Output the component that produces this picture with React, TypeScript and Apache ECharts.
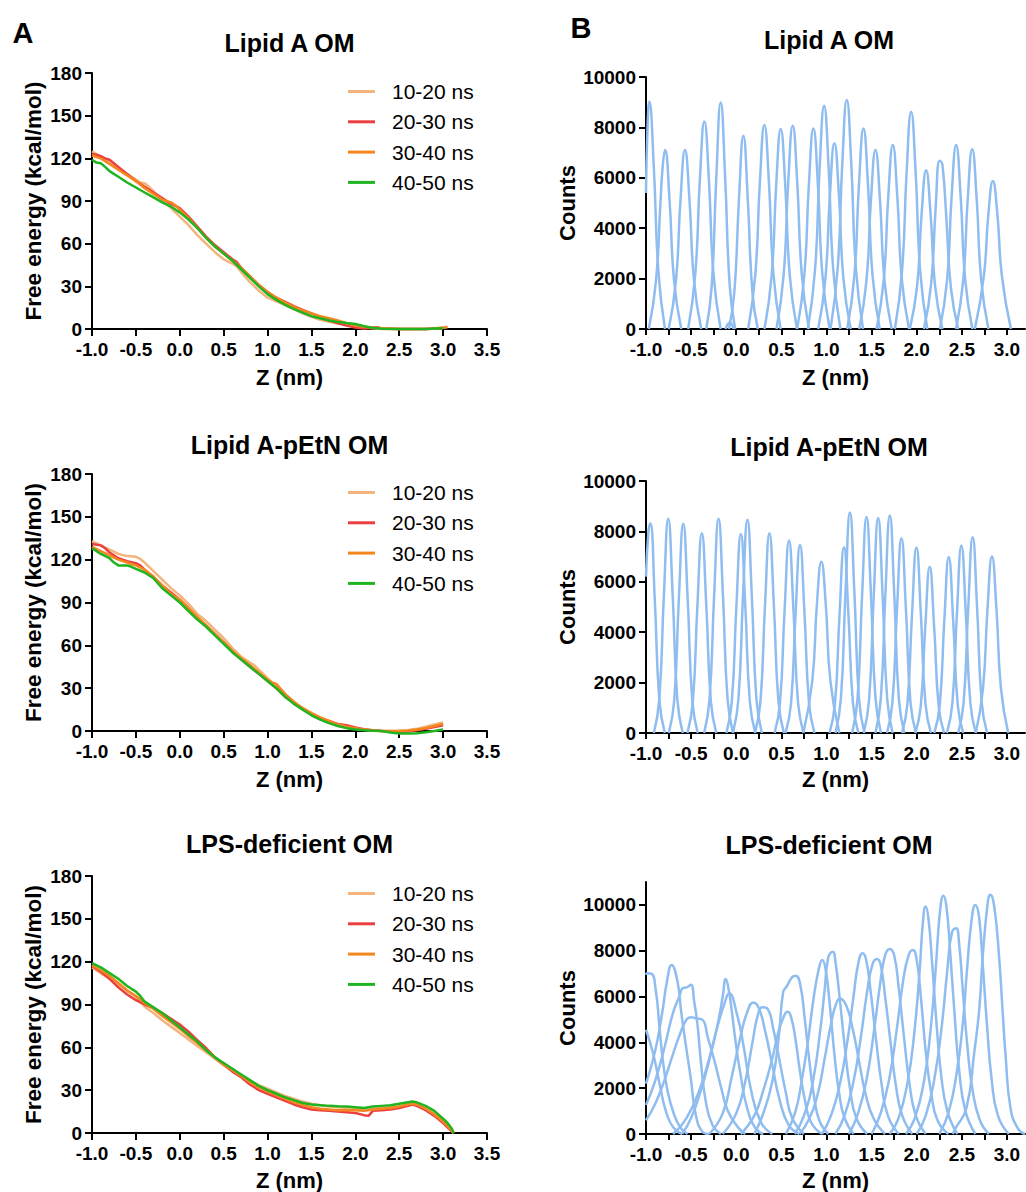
import React, { useEffect, useRef } from "react";
import * as echarts from "echarts";

// ---------- labels ----------
const LEGEND_NAMES = ["10-20 ns", "20-30 ns", "30-40 ns", "40-50 ns"];
const PANEL_TITLES = ["Lipid A OM", "Lipid A-pEtN OM", "LPS-deficient OM"];
const A_X_TICKS = [-1, -0.5, 0, 0.5, 1, 1.5, 2, 2.5, 3, 3.5];
const A_Y_TICKS = [0, 30, 60, 90, 120, 150, 180];
const B_X_LABELS = [-1, -0.5, 0, 0.5, 1, 1.5, 2, 2.5, 3];
const B_X_TICKS = [-1, -0.75, -0.5, -0.25, 0, 0.25, 0.5, 0.75, 1, 1.25, 1.5, 1.75, 2, 2.25, 2.5, 2.75, 3];
const B_Y_TICKS = [0, 2000, 4000, 6000, 8000, 10000];

// ---------- A: free energy profiles [z, kcal/mol] ----------
const lipidA_1020 = [[-1.0,125],[-0.95,123],[-0.9,121],[-0.8,117],[-0.7,113],[-0.6,109],[-0.5,105],[-0.45,103],[-0.4,102.5],[-0.35,100],[-0.3,97],[-0.2,91],[-0.1,85],[0,79],[0.1,73],[0.2,66],[0.3,60],[0.4,54],[0.5,49],[0.6,46],[0.65,44],[0.7,40],[0.8,33],[0.9,27],[1.0,22],[1.1,19.5],[1.2,17],[1.3,14],[1.4,11],[1.5,8.5],[1.6,6.5],[1.7,5],[1.8,4],[1.9,3],[2.0,2],[2.1,1.2],[2.2,0.6],[2.3,0],[2.5,0],[2.7,0],[2.9,0.2],[3.0,1.2],[3.05,1.5]];
const lipidA_2030 = [[-1.0,123],[-0.95,122.5],[-0.9,121.5],[-0.85,120],[-0.8,119],[-0.7,114],[-0.6,109],[-0.5,104],[-0.4,100],[-0.3,96],[-0.2,92],[-0.1,88],[0,85],[0.05,82],[0.1,79],[0.2,72],[0.3,65],[0.4,59],[0.5,54],[0.6,49],[0.65,47],[0.7,43],[0.8,37],[0.9,31],[1.0,26],[1.1,22],[1.2,19],[1.3,16],[1.4,13.5],[1.5,11],[1.6,8.5],[1.7,6],[1.8,4],[1.9,2.5],[2.0,1],[2.1,0.3],[2.2,0.8],[2.25,1.2],[2.3,0.3],[2.5,0],[2.8,0],[3.0,0.6]];
const lipidA_3040 = [[-1.0,122],[-0.9,120],[-0.8,116],[-0.7,112],[-0.6,108],[-0.5,104],[-0.4,99],[-0.3,95],[-0.2,91],[-0.1,89],[-0.05,87],[0,84],[0.1,78],[0.2,71],[0.3,64],[0.4,58],[0.5,53],[0.6,48],[0.7,43],[0.8,37],[0.9,31],[1.0,26],[1.1,22],[1.2,18.5],[1.3,15.5],[1.4,13],[1.5,11],[1.6,9],[1.7,7.5],[1.8,6],[1.9,4],[2.0,2.5],[2.1,1.5],[2.2,1],[2.3,0.5],[2.5,0],[2.8,0],[3.0,0.8],[3.05,1.2]];
const lipidA_4050 = [[-1.0,119],[-0.95,117],[-0.9,116.5],[-0.85,114],[-0.8,111],[-0.7,107],[-0.6,103],[-0.5,99.5],[-0.4,96],[-0.3,92.5],[-0.2,89],[-0.1,86],[0,82],[0.1,77],[0.2,71],[0.3,64],[0.4,58],[0.5,53],[0.6,48],[0.7,42],[0.8,36],[0.9,30],[1.0,24.5],[1.1,20.5],[1.2,17],[1.3,14],[1.4,11.5],[1.5,9],[1.6,7.5],[1.7,6],[1.8,5],[1.9,4.2],[2.0,3.5],[2.1,2],[2.2,0.8],[2.3,0.2],[2.5,0],[2.8,0],[3.0,0.5]];

const pEtN_1020 = [[-1.0,133],[-0.9,130],[-0.8,127],[-0.7,124],[-0.6,122.5],[-0.5,122],[-0.45,120.5],[-0.4,118],[-0.3,112],[-0.2,106],[-0.1,100],[0,95],[0.1,89],[0.2,82],[0.25,79.5],[0.3,77],[0.4,71],[0.5,65],[0.6,58],[0.7,52],[0.8,48],[0.85,46],[0.9,43],[1.0,37],[1.1,31],[1.2,25],[1.3,20],[1.4,16],[1.5,12.5],[1.6,9],[1.7,6],[1.8,4],[1.9,2.5],[2.0,1.5],[2.1,0.8],[2.2,0.3],[2.3,0],[2.4,0],[2.5,0.2],[2.6,0.6],[2.7,1.5],[2.8,3],[2.9,4.5],[3.0,6]];
const pEtN_2030 = [[-1.0,131],[-0.9,130],[-0.85,128],[-0.8,125],[-0.7,121],[-0.6,119],[-0.5,117.5],[-0.45,116],[-0.4,113],[-0.3,108],[-0.2,102],[-0.1,97],[0,92],[0.1,86],[0.2,79],[0.3,74],[0.4,68],[0.5,62],[0.6,56],[0.7,50],[0.8,45],[0.9,40],[1.0,35],[1.1,30],[1.2,24],[1.3,19.5],[1.4,15.5],[1.5,12],[1.6,9],[1.7,7],[1.8,5],[1.9,4],[2.0,2.5],[2.1,1.2],[2.2,0.5],[2.3,0],[2.4,-0.3],[2.5,-0.5],[2.6,-0.3],[2.7,0.5],[2.8,1.5],[2.9,2.8],[3.0,4]];
const pEtN_3040 = [[-1.0,129],[-0.9,126],[-0.8,123],[-0.7,120],[-0.6,118],[-0.5,116],[-0.4,113],[-0.3,108],[-0.2,102],[-0.1,96],[0,92],[0.1,86],[0.2,80],[0.3,74],[0.4,68],[0.5,62],[0.6,56],[0.7,51],[0.8,46],[0.9,41],[1.0,36],[1.05,34],[1.1,33],[1.2,26],[1.3,20.5],[1.4,16],[1.5,12.5],[1.6,9.5],[1.7,7],[1.8,4.5],[1.9,3],[2.0,2],[2.1,1],[2.2,0.4],[2.3,0],[2.5,0],[2.6,0.3],[2.7,1],[2.8,2],[2.9,3.5],[3.0,5]];
const pEtN_4050 = [[-1.0,128],[-0.9,124],[-0.8,121],[-0.75,118],[-0.7,116],[-0.6,116],[-0.55,115],[-0.5,113.5],[-0.4,111],[-0.3,107],[-0.2,100],[-0.1,95],[0,90],[0.1,84],[0.2,78],[0.3,73],[0.4,67],[0.5,61],[0.6,55],[0.7,50],[0.8,45],[0.9,40],[1.0,35],[1.1,30],[1.2,24],[1.3,19],[1.4,15],[1.5,11],[1.6,8],[1.7,5.5],[1.8,3.5],[1.9,2],[2.0,1],[2.1,0.5],[2.2,0.2],[2.3,0],[2.4,-1],[2.5,-1.8],[2.6,-1.8],[2.7,-1.5],[2.8,-0.8],[2.9,0],[3.0,1]];

const lps_1020 = [[-1.0,116],[-0.9,112],[-0.8,108],[-0.7,104],[-0.6,99.5],[-0.5,95],[-0.4,88.5],[-0.3,84],[-0.2,79],[-0.1,74.5],[0,70],[0.1,65.5],[0.2,61],[0.3,56.5],[0.4,52],[0.5,47.5],[0.6,43.5],[0.7,40],[0.8,36.5],[0.9,33.5],[1.0,31],[1.1,28.5],[1.2,26],[1.3,24],[1.4,22],[1.5,20.5],[1.6,19.5],[1.7,18.5],[1.8,18],[1.9,17.5],[2.0,17],[2.1,16.5],[2.2,17],[2.3,17.5],[2.4,18],[2.5,18.5],[2.6,19.5],[2.65,20],[2.7,19.5],[2.8,17],[2.9,13.5],[3.0,8],[3.05,5],[3.1,2],[3.12,0]];
const lps_2030 = [[-1.0,117],[-0.9,113],[-0.8,108],[-0.7,102],[-0.6,97],[-0.5,93],[-0.4,90],[-0.3,87.5],[-0.2,84],[-0.1,80],[0,76],[0.1,71],[0.2,65],[0.3,59.5],[0.4,53],[0.5,48],[0.6,43],[0.7,39],[0.8,34],[0.9,30],[1.0,27.5],[1.1,25],[1.2,22.5],[1.3,20],[1.4,18],[1.5,16.5],[1.6,16],[1.7,15.5],[1.8,15],[1.9,14.5],[2.0,14],[2.1,12.5],[2.15,12],[2.2,15.5],[2.3,16],[2.4,16.5],[2.5,17.5],[2.6,19],[2.65,20],[2.7,19],[2.8,16],[2.9,12],[3.0,7],[3.05,4],[3.1,1],[3.12,0]];
const lps_3040 = [[-1.0,117.5],[-0.9,114],[-0.8,110],[-0.7,105],[-0.6,100],[-0.5,96],[-0.4,91],[-0.3,87],[-0.2,82],[-0.1,77.5],[0,73],[0.1,68],[0.2,63],[0.3,58],[0.4,53],[0.5,48],[0.6,44],[0.7,40],[0.8,35.5],[0.9,32],[1.0,29],[1.1,26.5],[1.2,24],[1.3,21.5],[1.4,19.5],[1.5,18],[1.6,17],[1.7,16.5],[1.8,16],[1.9,16],[2.0,16],[2.1,15.5],[2.2,16.5],[2.3,17],[2.4,17.5],[2.5,18.5],[2.6,20],[2.65,20.5],[2.7,20],[2.8,17],[2.9,13],[3.0,8],[3.05,5],[3.1,1.5],[3.12,0]];
const lps_4050 = [[-1.0,119],[-0.9,116],[-0.8,112],[-0.7,108],[-0.6,103],[-0.5,99],[-0.45,96],[-0.4,92],[-0.3,88],[-0.2,84],[-0.1,79],[0,74],[0.1,69],[0.2,64],[0.3,58],[0.4,53],[0.5,49],[0.6,45],[0.7,41],[0.8,37],[0.9,33],[1.0,30],[1.1,27.5],[1.2,25],[1.3,23],[1.4,21],[1.5,20],[1.6,19.5],[1.7,19],[1.8,18.7],[1.9,18.5],[2.0,18],[2.1,17.5],[2.2,18.5],[2.3,19],[2.4,19.5],[2.5,20.5],[2.6,21.5],[2.65,22],[2.7,21.5],[2.8,19],[2.9,15.5],[3.0,10],[3.05,7],[3.1,3],[3.12,0]];

// ---------- B: umbrella-window histograms [z, counts] ----------
const lipidA_hist = [
  [[-1.0,5400],[-0.985,7800],[-0.963,9020],[-0.913,6400],[-0.863,2300],[-0.79,0]],
  [[-0.969,0],[-0.889,1920],[-0.84,5000],[-0.815,6450],[-0.789,7100],[-0.739,5110],[-0.689,1920],[-0.609,0]],
  [[-0.748,0],[-0.668,1920],[-0.618,5110],[-0.568,7100],[-0.518,5110],[-0.468,1920],[-0.388,0]],
  [[-0.533,0],[-0.453,2220],[-0.403,5930],[-0.353,8230],[-0.303,5930],[-0.253,2220],[-0.173,0]],
  [[-0.332,0],[-0.272,1710],[-0.222,5930],[-0.172,8990],[-0.122,5930],[-0.072,1710],[-0.012,0]],
  [[-0.12,0],[-0.07,260],[-0.03,0]],
  [[-0.081,0],[-0.021,1460],[0.029,5060],[0.079,7670],[0.129,5060],[0.179,1460],[0.239,0]],
  [[0.132,0],[0.212,2190],[0.262,5830],[0.312,8100],[0.362,5830],[0.412,2190],[0.492,0]],
  [[0.313,0],[0.393,2140],[0.443,5720],[0.493,7940],[0.543,5720],[0.593,2140],[0.673,0]],
  [[0.446,0],[0.526,2180],[0.576,5810],[0.626,8070],[0.676,5810],[0.726,2180],[0.806,0]],
  [[0.675,0],[0.755,2150],[0.805,5730],[0.855,7960],[0.905,5730],[0.955,2150],[1.035,0]],
  [[0.794,0],[0.874,2390],[0.924,6380],[0.974,8860],[1.024,6380],[1.074,2390],[1.154,0]],
  [[0.908,0],[0.988,1990],[1.038,5310],[1.088,7370],[1.138,5310],[1.188,1990],[1.268,0]],
  [[1.045,0],[1.125,2450],[1.175,6540],[1.225,9090],[1.275,6540],[1.325,2450],[1.405,0]],
  [[1.23,0],[1.31,2150],[1.36,5730],[1.41,7960],[1.46,5730],[1.51,2150],[1.59,0]],
  [[1.363,0],[1.443,1920],[1.493,5110],[1.543,7100],[1.593,5110],[1.643,1920],[1.723,0]],
  [[1.555,0],[1.635,1970],[1.685,5260],[1.735,7300],[1.785,5260],[1.835,1970],[1.915,0]],
  [[1.758,0],[1.838,2330],[1.888,6210],[1.938,8620],[1.988,6210],[2.038,2330],[2.118,0]],
  [[1.924,0],[2.004,1700],[2.054,4540],[2.104,6300],[2.154,4540],[2.204,1700],[2.284,0]],
  [[2.08,0],[2.16,1800],[2.21,4800],[2.255,6680],[2.285,6520],[2.33,4300],[2.38,1600],[2.46,0]],
  [[2.257,0],[2.337,1970],[2.387,5260],[2.437,7300],[2.487,5260],[2.537,1970],[2.617,0]],
  [[2.435,0],[2.515,1925],[2.565,5130],[2.615,7130],[2.665,5130],[2.715,1925],[2.795,0]],
  [[2.644,0],[2.744,2110],[2.794,4550],[2.844,5870],[2.894,4550],[2.944,2110],[3.044,0]],
];

const pEtN_hist = [
  [[-1.0,6200],[-0.975,7900],[-0.952,8320],[-0.902,5240],[-0.852,1310],[-0.792,0]],
  [[-0.913,0],[-0.853,1335],[-0.803,5360],[-0.753,8500],[-0.703,5360],[-0.653,1335],[-0.593,0]],
  [[-0.747,0],[-0.687,1300],[-0.637,5230],[-0.587,8300],[-0.537,5230],[-0.487,1300],[-0.427,0]],
  [[-0.541,0],[-0.481,1245],[-0.431,5000],[-0.381,7930],[-0.331,5000],[-0.281,1245],[-0.221,0]],
  [[-0.356,0],[-0.296,1335],[-0.246,5360],[-0.196,8500],[-0.146,5360],[-0.096,1335],[-0.036,0]],
  [[-0.109,0],[-0.049,1240],[0.001,4980],[0.051,7900],[0.101,4980],[0.151,1240],[0.211,0]],
  [[-0.036,0],[0.024,1330],[0.074,5330],[0.124,8460],[0.174,5330],[0.224,1330],[0.284,0]],
  [[0.208,0],[0.268,1245],[0.318,5000],[0.368,7930],[0.418,5000],[0.468,1245],[0.528,0]],
  [[0.425,0],[0.485,1200],[0.535,4810],[0.585,7640],[0.635,4810],[0.685,1200],[0.745,0]],
  [[0.547,0],[0.607,1170],[0.657,4700],[0.707,7460],[0.757,4700],[0.807,1170],[0.867,0]],
  [[0.743,0],[0.843,2080],[0.893,5060],[0.943,6800],[0.993,5060],[1.043,2080],[1.143,0]],
  [[1.034,0],[1.094,1160],[1.144,4640],[1.194,7370],[1.244,4640],[1.294,1160],[1.354,0]],
  [[1.1,0],[1.16,1375],[1.21,5510],[1.26,8750],[1.31,5510],[1.36,1375],[1.42,0]],
  [[1.284,0],[1.344,1345],[1.394,5400],[1.444,8570],[1.494,5400],[1.544,1345],[1.604,0]],
  [[1.413,0],[1.473,1340],[1.523,5370],[1.573,8530],[1.623,5370],[1.673,1340],[1.733,0]],
  [[1.542,0],[1.602,1355],[1.652,5440],[1.702,8630],[1.752,5440],[1.802,1355],[1.862,0]],
  [[1.671,0],[1.731,1215],[1.781,4870],[1.831,7730],[1.881,4870],[1.931,1215],[1.991,0]],
  [[1.837,0],[1.897,1155],[1.947,4640],[1.997,7360],[2.047,4640],[2.097,1155],[2.157,0]],
  [[1.984,0],[2.044,1035],[2.094,4160],[2.144,6600],[2.194,4160],[2.244,1035],[2.304,0]],
  [[2.195,0],[2.255,1095],[2.305,4400],[2.355,6980],[2.405,4400],[2.455,1095],[2.515,0]],
  [[2.335,0],[2.395,1170],[2.445,4690],[2.495,7440],[2.545,4690],[2.595,1170],[2.655,0]],
  [[2.46,0],[2.52,1220],[2.57,4900],[2.62,7770],[2.67,4900],[2.72,1220],[2.78,0]],
  [[2.654,0],[2.734,1750],[2.784,4900],[2.834,7000],[2.884,4900],[2.934,1750],[3.014,0]],
];

const lps_hist = [
  [[-1.0,4550],[-0.92,3500],[-0.85,2200],[-0.78,1000],[-0.7,300],[-0.6,0]],
  [[-1.0,6950],[-0.99,7020],[-0.94,7000],[-0.89,6220],[-0.853,4760],[-0.816,3310],[-0.76,1850],[-0.687,830],[-0.613,250],[-0.54,0]],
  [[-1.0,2200],[-0.9,3600],[-0.82,5300],[-0.77,6600],[-0.716,7380],[-0.65,6640],[-0.61,5330],[-0.558,3870],[-0.503,2400],[-0.448,830],[-0.374,100],[-0.3,0]],
  [[-1.0,1270],[-0.9,2300],[-0.8,3700],[-0.7,5300],[-0.63,6000],[-0.595,6360],[-0.55,6400],[-0.503,6510],[-0.466,5780],[-0.429,4760],[-0.392,3160],[-0.337,1410],[-0.263,390],[-0.17,0]],
  [[-1.0,600],[-0.9,1300],[-0.8,2300],[-0.7,3500],[-0.62,4400],[-0.55,5000],[-0.5,5100],[-0.448,5050],[-0.373,4980],[-0.318,4250],[-0.244,3230],[-0.17,2070],[-0.097,1050],[0.014,320],[0.1,0]],
  [[-0.6,0],[-0.5,700],[-0.4,1800],[-0.3,3200],[-0.2,4900],[-0.15,6000],[-0.116,6770],[-0.08,6220],[-0.044,5200],[-0.007,4030],[0.048,2580],[0.122,1120],[0.214,250],[0.3,0]],
  [[-0.7,0],[-0.55,700],[-0.4,2000],[-0.3,3300],[-0.2,4800],[-0.13,5700],[-0.08,6140],[0.01,5200],[0.085,3750],[0.16,2000],[0.27,540],[0.4,0]],
  [[-0.3,0],[-0.15,900],[-0.05,2500],[0.05,4300],[0.12,5300],[0.19,5740],[0.25,5500],[0.32,4500],[0.4,3000],[0.48,1500],[0.58,400],[0.7,0]],
  [[-0.15,0],[0,900],[0.1,2300],[0.18,4000],[0.24,5200],[0.29,5530],[0.35,5450],[0.41,4600],[0.48,3200],[0.55,1800],[0.62,700],[0.75,0]],
  [[0.05,0],[0.2,800],[0.3,1900],[0.4,3300],[0.47,4500],[0.53,5150],[0.567,5340],[0.6,5200],[0.65,4300],[0.7,2900],[0.76,1500],[0.83,500],[0.95,0]],
  [[0.2,0],[0.3,900],[0.4,2300],[0.47,4200],[0.52,6200],[0.56,6450],[0.62,6850],[0.66,6910],[0.71,6500],[0.76,5000],[0.81,3200],[0.86,1700],[0.92,600],[1.02,0]],
  [[0.55,0],[0.65,900],[0.72,2200],[0.8,4200],[0.86,6000],[0.92,7300],[0.953,7600],[0.99,7200],[1.04,5500],[1.09,3400],[1.14,1800],[1.2,700],[1.3,0]],
  [[0.65,0],[0.75,800],[0.85,2300],[0.93,4500],[0.98,6300],[1.02,7700],[1.07,7960],[1.1,7500],[1.15,5800],[1.2,3900],[1.26,2000],[1.33,700],[1.45,0]],
  [[0.7,0],[0.8,600],[0.9,1700],[0.98,3300],[1.05,4800],[1.1,5600],[1.15,5920],[1.22,5600],[1.29,4600],[1.36,3200],[1.43,1800],[1.52,700],[1.65,0]],
  [[0.95,0],[1.05,800],[1.15,2200],[1.23,4000],[1.3,6000],[1.35,7400],[1.4,7890],[1.44,7600],[1.49,6200],[1.55,4100],[1.61,2200],[1.68,800],[1.8,0]],
  [[1.1,0],[1.2,800],[1.3,2300],[1.38,4200],[1.45,6200],[1.51,7400],[1.56,7640],[1.6,7400],[1.65,6000],[1.71,4000],[1.77,2100],[1.84,800],[1.95,0]],
  [[1.25,0],[1.35,900],[1.45,2500],[1.53,4600],[1.6,6700],[1.65,7800],[1.7,8080],[1.75,7800],[1.8,6400],[1.86,4200],[1.92,2200],[1.99,800],[2.1,0]],
  [[1.5,0],[1.6,900],[1.7,2500],[1.78,4600],[1.85,6700],[1.91,7800],[1.958,8030],[2.0,7600],[2.05,5800],[2.1,3600],[2.16,1800],[2.23,600],[2.35,0]],
  [[1.7,0],[1.8,700],[1.9,2300],[1.97,4300],[2.03,7000],[2.07,9300],[2.098,9930],[2.13,9400],[2.17,7500],[2.22,4800],[2.27,2600],[2.34,1000],[2.45,0]],
  [[1.88,0],[1.98,700],[2.08,2300],[2.15,4400],[2.21,7200],[2.26,9800],[2.296,10400],[2.33,9900],[2.37,8000],[2.42,5200],[2.47,2800],[2.54,1000],[2.65,0]],
  [[2.0,0],[2.1,800],[2.2,2500],[2.28,4800],[2.34,7200],[2.39,8800],[2.436,8980],[2.47,8300],[2.51,6300],[2.56,3900],[2.62,1900],[2.7,600],[2.8,0]],
  [[2.25,0],[2.35,900],[2.44,2600],[2.51,4800],[2.56,7300],[2.61,9400],[2.65,10000],[2.69,9500],[2.73,7500],[2.78,4700],[2.83,2400],[2.9,800],[3.02,0]],
  [[2.4,0],[2.43,250],[2.55,1120],[2.64,3640],[2.695,5530],[2.73,7670],[2.79,10200],[2.815,10440],[2.86,9900],[2.914,7670],[2.95,5490],[2.987,3300],[3.04,1120],[3.12,250],[3.2,0]],
];

const FREE_ENERGY = [
  [lipidA_1020, lipidA_2030, lipidA_3040, lipidA_4050],
  [pEtN_1020, pEtN_2030, pEtN_3040, pEtN_4050],
  [lps_1020, lps_2030, lps_3040, lps_4050],
];
const HISTS = [lipidA_hist, pEtN_hist, lps_hist];
const B_Y_MAX = [10000, 10000, 11000];

// ---------- styling / layout ----------
const FONT = "'Liberation Sans', Arial, Helvetica, sans-serif";
const LINE_COLORS = ["#F3B47E", "#EC4040", "#F4851F", "#20B420"];
const HIST_COLOR = "#8FBDF0";
const A_GRIDS = [
  { left: 92, top: 73, width: 395, height: 256 },
  { left: 92, top: 474, width: 395, height: 257 },
  { left: 92, top: 876, width: 395, height: 257 },
];
const B_GRIDS = [
  { left: 646, top: 77, width: 379, height: 252 },
  { left: 646, top: 481, width: 379, height: 252 },
  { left: 646, top: 882, width: 379, height: 252 },
];
const TITLE_Y = [[43, 40], [445, 447], [844, 845]];
const XNAME_Y = [377, 779, 1180];
const LEGEND_TOP = [81, 482, 883];

const fmt1 = (v: number) => (Math.abs(v) < 1e-9 ? "0.0" : v.toFixed(1));
const fmtInt = (v: number) => String(Math.round(v));

function axisStyle() {
  return {
    axisLine: { show: true, onZero: false, lineStyle: { color: "#000", width: 2 } },
    axisTick: { show: true, length: 7, lineStyle: { color: "#000", width: 2 } },
    splitLine: { show: false },
  };
}
const labelStyle = { color: "#000", fontSize: 19, fontWeight: "bold", fontFamily: FONT };

function buildOption() {
  const grid: any[] = [];
  const xAxis: any[] = [];
  const yAxis: any[] = [];
  const series: any[] = [];
  const legend: any[] = [];
  const graphic: any[] = [];

  const txt = (text: string, x: number, y: number, size: number, bold = true, rotation = 0) => ({
    type: "text",
    x,
    y,
    rotation,
    silent: true,
    style: {
      text,
      fill: "#000",
      fontSize: size,
      fontWeight: bold ? "bold" : "normal",
      fontFamily: FONT,
      align: "center",
      verticalAlign: "middle",
    },
  });

  // A panels
  A_GRIDS.forEach((g, i) => {
    grid.push({ ...g, containLabel: false, outerBoundsMode: "none" });
    xAxis.push({
      type: "value", gridIndex: i, min: -1, max: 3.5, interval: 0.5,
      ...axisStyle(),
      axisLabel: { ...labelStyle, margin: 11, formatter: fmt1 },
    });
    yAxis.push({
      type: "value", gridIndex: i, min: 0, max: 180, interval: 30,
      ...axisStyle(),
      axisLabel: { ...labelStyle, margin: 10, formatter: fmtInt },
    });
    FREE_ENERGY[i].forEach((d, k) => {
      series.push({
        type: "line", name: LEGEND_NAMES[k], xAxisIndex: i, yAxisIndex: i,
        data: d, symbol: "none", showSymbol: false, clip: false,
        lineStyle: { color: LINE_COLORS[k], width: 2.5 },
        itemStyle: { color: LINE_COLORS[k] },
        z: 3,
      });
    });
    legend.push({
      orient: "vertical", left: 348, top: LEGEND_TOP[i], padding: 0,
      itemWidth: 27, itemHeight: 3, itemGap: 9.3, icon: "rect",
      selectedMode: false, data: LEGEND_NAMES,
      textStyle: { color: "#000", fontSize: 21, fontFamily: FONT, padding: [0, 0, 0, 12] },
    });
    const cx = g.left + g.width / 2;
    graphic.push(txt(PANEL_TITLES[i], cx, TITLE_Y[i][0], 25));
    graphic.push(txt("Z (nm)", cx, XNAME_Y[i], 22));
    graphic.push(txt("Free energy (kcal/mol)", 33, g.top + g.height / 2, 22.5, true, Math.PI / 2));
  });

  // B panels
  B_GRIDS.forEach((g, j) => {
    const idx = 3 + j;
    grid.push({ ...g, containLabel: false, outerBoundsMode: "none" });
    xAxis.push({
      type: "value", gridIndex: idx, min: -1, max: 3.2,
      ...axisStyle(),
      axisTick: { show: true, length: 6, customValues: B_X_TICKS, lineStyle: { color: "#000", width: 2 } },
      axisLabel: { ...labelStyle, margin: 11, formatter: fmt1, customValues: B_X_LABELS },
    });
    yAxis.push({
      type: "value", gridIndex: idx, min: 0, max: B_Y_MAX[j], interval: 2000,
      ...axisStyle(),
      axisTick: { show: true, length: 7, customValues: B_Y_TICKS, lineStyle: { color: "#000", width: 2 } },
      axisLabel: { ...labelStyle, margin: 10, formatter: fmtInt, customValues: B_Y_TICKS },
    });
    HISTS[j].forEach((d) => {
      series.push({
        type: "line", xAxisIndex: idx, yAxisIndex: idx, data: d,
        symbol: "none", showSymbol: false, smooth: 0.5, silent: true,
        lineStyle: { color: HIST_COLOR, width: 2.5 },
        itemStyle: { color: HIST_COLOR },
        z: 3,
      });
    });
    const cx = g.left + g.width / 2;
    graphic.push(txt(PANEL_TITLES[j], 829, TITLE_Y[j][1], 25));
    graphic.push(txt("Z (nm)", cx, XNAME_Y[j], 22));
    graphic.push(txt("Counts", 567, g.top + g.height / 2, 22, true, Math.PI / 2));
  });

  graphic.push(txt("A", 23, 33, 29));
  graphic.push(txt("B", 581, 28, 29));

  return {
    animation: false,
    backgroundColor: "#fff",
    grid, xAxis, yAxis, series, legend, graphic,
  };
}

export default function App() {
  const ref = useRef<HTMLDivElement>(null);
  useEffect(() => {
    document.body.style.margin = "0";
    if (!ref.current) return;
    const chart = echarts.init(ref.current, undefined, { renderer: "svg" });
    chart.setOption(buildOption() as any);
    return () => chart.dispose();
  }, []);
  return <div ref={ref} style={{ width: 1026, height: 1192 }} />;
}
